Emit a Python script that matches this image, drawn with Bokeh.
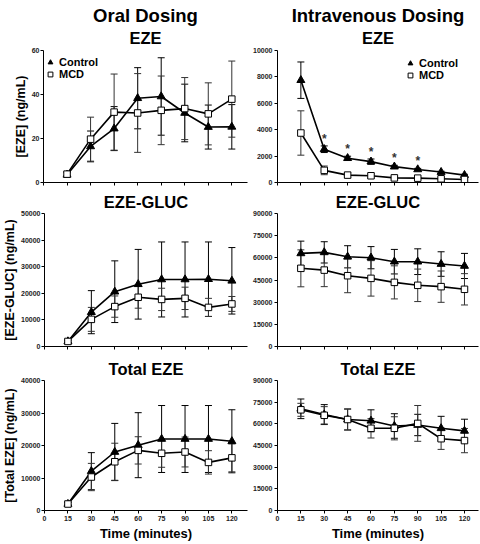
from bokeh.plotting import figure
from bokeh.layouts import column, row
from bokeh.models import (Range1d, ColumnDataSource, Whisker, TeeHead, Title,
                          Legend, LegendItem, FixedTicker)
from bokeh.core.properties import value
from bokeh.embed import file_html
from bokeh.resources import INLINE

# ---------------- data ----------------
time_min = [15, 30, 45, 60, 75, 90, 105, 120]
x_ticks = [0, 15, 30, 45, 60, 75, 90, 105, 120]

column_titles = ["Oral Dosing", "Intravenous Dosing"]
panel_titles = ["EZE", "EZE-GLUC", "Total EZE"]
y_labels = ["[EZE] (ng/mL)", "[EZE-GLUC] (ng/mL)", "[Total EZE] (ng/mL)"]
x_label = "Time (minutes)"
series_names = ["Control", "MCD"]

# Oral dosing
oral_eze_ctrl = [3.5, 16.4, 24.5, 38.3, 39.1, 31.6, 25.2, 25.3]
oral_eze_ctrl_sd = [1.0, 7.0, 10.0, 13.9, 17.6, 13.1, 10.0, 10.1]
oral_eze_mcd = [3.8, 19.7, 32.0, 31.6, 32.8, 33.6, 31.2, 37.9]
oral_eze_mcd_sd = [1.0, 10.0, 17.3, 17.9, 15.6, 14.1, 14.1, 17.3]

oral_gluc_ctrl = [1900, 12900, 20600, 23400, 25200, 25200, 25300, 24700]
oral_gluc_ctrl_sd = [500, 8100, 11600, 13100, 14100, 14100, 14000, 12500]
oral_gluc_mcd = [1900, 10200, 15000, 18500, 17700, 18100, 14700, 16000]
oral_gluc_mcd_sd = [500, 4500, 4000, 4100, 4200, 4200, 3400, 2800]

oral_total_ctrl = [2000, 12100, 18000, 20100, 22000, 22000, 22000, 21300]
oral_total_ctrl_sd = [500, 5700, 8800, 10000, 10300, 10300, 10300, 9700]
oral_total_mcd = [2000, 10300, 15000, 18500, 17600, 18000, 14800, 16200]
oral_total_mcd_sd = [500, 4200, 5700, 4200, 4300, 4600, 3600, 4300]

# Intravenous dosing
iv_eze_ctrl = [7750, 2520, 1840, 1580, 1200, 990, 790, 560]
iv_eze_ctrl_sd = [1380, 250, 150, 200, 100, 80, 60, 60]
iv_eze_mcd = [3750, 920, 560, 510, 350, 330, 280, 230]
iv_eze_mcd_sd = [1680, 330, 180, 150, 80, 60, 50, 60]
iv_eze_significant = [False, True, True, True, True, True, False, False]

iv_gluc_ctrl = [63000, 63700, 60700, 60100, 57400, 57400, 55800, 54500]
iv_gluc_ctrl_sd = [8300, 7200, 7500, 7500, 8300, 8700, 8300, 8500]
iv_gluc_mcd = [52900, 51700, 47900, 46100, 43400, 41400, 40500, 38700]
iv_gluc_mcd_sd = [12500, 11200, 11500, 12000, 11200, 11000, 10600, 10600]

iv_total_ctrl = [70400, 66400, 63000, 62100, 58500, 59200, 56900, 55100]
iv_total_ctrl_sd = [6800, 6900, 7300, 7600, 8500, 7400, 8300, 8100]
iv_total_mcd = [69700, 65900, 63000, 56900, 56900, 60300, 49700, 48400]
iv_total_mcd_sd = [4500, 6000, 7200, 6700, 8000, 12400, 7400, 8400]

oral_y_max = [60, 50000, 40000]
oral_y_step = [20, 10000, 10000]
iv_y_max = [10000, 90000, 90000]
iv_y_step = [2000, 15000, 15000]
x_max = [130, 129]

FONT = "Liberation Sans"

# ---------------- layout ----------------
row_heights = [193, 167, 188]
row_shift = [-3, -2, 0]
top_borders = [53, 25, 25]
bottom_borders = [8, 9, 30]
col_widths = [250, 230]
left_borders = [43, 26]
right_borders = [3, 2]
sub_standoff = [5, 3, 3]
legend_loc = [(1, 102), (127, 101)]


def make_panel(ci, ri, ctrl, ctrl_sd, mcd, mcd_sd, ymax, ystep, sig=None):
    p = figure(width=col_widths[ci], height=row_heights[ri],
               output_backend="svg", toolbar_location=None,
               x_range=Range1d(0, x_max[ci]), y_range=Range1d(0, ymax),
               min_border_left=left_borders[ci], min_border_right=right_borders[ci],
               min_border_top=top_borders[ri], min_border_bottom=bottom_borders[ri])
    p.outline_line_color = None
    p.xgrid.visible = False
    p.ygrid.visible = False
    p.background_fill_color = "white"
    p.border_fill_color = "white"

    p.xaxis.ticker = FixedTicker(ticks=x_ticks)
    p.yaxis.ticker = FixedTicker(ticks=list(range(0, ymax + 1, ystep)))
    for ax in (p.xaxis[0], p.yaxis[0]):
        ax.axis_line_color = "black"
        ax.axis_line_width = 1
        ax.major_tick_line_color = "black"
        ax.major_tick_in = 0
        ax.major_tick_out = 3
        ax.minor_tick_line_color = None
        ax.major_label_text_font = FONT
        ax.major_label_text_font_style = "bold"
        ax.major_label_text_font_size = "7px"
        ax.major_label_text_color = "#222222"
        ax.major_label_standoff = 2
    if ri < 2:
        p.xaxis.major_label_overrides = {t: "" for t in x_ticks}
    else:
        p.xaxis.major_label_standoff = 2
        p.xaxis.axis_label = x_label
        p.xaxis.axis_label_text_font = FONT
        p.xaxis.axis_label_text_font_style = "bold"
        p.xaxis.axis_label_text_font_size = "13px"
        p.xaxis.axis_label_standoff = 2
        p.xaxis.axis_label_text_color = "black"
    if ci == 0:
        p.yaxis.major_label_standoff = 1
        p.yaxis.axis_label = y_labels[ri]
        p.yaxis.axis_label_text_font = FONT
        p.yaxis.axis_label_text_font_style = "bold"
        p.yaxis.axis_label_text_font_size = "12.5px"
        p.yaxis.axis_label_standoff = 1
        p.yaxis.axis_label_text_color = "black"

    # error bars
    for vals, sds, col in ((ctrl, ctrl_sd, "black"), (mcd, mcd_sd, "#333333")):
        src = ColumnDataSource(dict(x=time_min,
                                    lower=[v - s for v, s in zip(vals, sds)],
                                    upper=[v + s for v, s in zip(vals, sds)]))
        w = Whisker(base="x", lower="lower", upper="upper", source=src,
                    line_color=col, line_width=1, level="underlay",
                    upper_head=TeeHead(size=7, line_color=col, line_width=1),
                    lower_head=TeeHead(size=7, line_color=col, line_width=1))
        p.add_layout(w)

    p.line(time_min, ctrl, line_color="black", line_width=1.6)
    p.line(time_min, mcd, line_color="black", line_width=1.6)
    r_ctrl = p.scatter(time_min, ctrl, marker="triangle", size=8,
                       fill_color="black", line_color="black")
    r_mcd = p.scatter(time_min, mcd, marker="square", size=6.5,
                      fill_color="white", line_color="black", line_width=1)

    if sig is not None:
        xs = [t for t, s in zip(time_min, sig) if s]
        ys = [v + s for v, s, g in zip(ctrl, ctrl_sd, sig) if g]
        p.text(x=xs, y=ys, text=["*"] * len(xs), text_align="center",
               text_baseline="bottom", text_font=value(FONT),
               text_font_style="bold", text_font_size="12px", text_color="#333333")

    # titles
    sub = Title(text=panel_titles[ri], align="center", vertical_align="middle",
                text_font=FONT, text_font_style="bold", text_font_size="16.5px",
                standoff=sub_standoff[ri], text_color="black")
    p.add_layout(sub, "above")
    if ri == 0:
        main = Title(text=column_titles[ci], align="center", text_font=FONT,
                     text_font_style="bold", text_font_size="18.5px",
                     standoff=0, text_color="black")
        p.add_layout(main, "above")
        leg = Legend(items=[LegendItem(label=series_names[0], renderers=[r_ctrl]),
                            LegendItem(label=series_names[1], renderers=[r_mcd])],
                     location=legend_loc[ci], padding=2, margin=0, spacing=0,
                     glyph_width=12, glyph_height=12, label_height=12,
                     label_standoff=3, label_text_font=FONT,
                     label_text_font_style="bold", label_text_font_size="11px",
                     label_text_color="black",
                     background_fill_alpha=0, border_line_color=None)
        p.add_layout(leg)
    return p


oral = [
    make_panel(0, 0, oral_eze_ctrl, oral_eze_ctrl_sd, oral_eze_mcd, oral_eze_mcd_sd,
               oral_y_max[0], oral_y_step[0]),
    make_panel(0, 1, oral_gluc_ctrl, oral_gluc_ctrl_sd, oral_gluc_mcd, oral_gluc_mcd_sd,
               oral_y_max[1], oral_y_step[1]),
    make_panel(0, 2, oral_total_ctrl, oral_total_ctrl_sd, oral_total_mcd, oral_total_mcd_sd,
               oral_y_max[2], oral_y_step[2]),
]
iv = [
    make_panel(1, 0, iv_eze_ctrl, iv_eze_ctrl_sd, iv_eze_mcd, iv_eze_mcd_sd,
               iv_y_max[0], iv_y_step[0], sig=iv_eze_significant),
    make_panel(1, 1, iv_gluc_ctrl, iv_gluc_ctrl_sd, iv_gluc_mcd, iv_gluc_mcd_sd,
               iv_y_max[1], iv_y_step[1]),
    make_panel(1, 2, iv_total_ctrl, iv_total_ctrl_sd, iv_total_mcd, iv_total_mcd_sd,
               iv_y_max[2], iv_y_step[2]),
]

rows = [row(o, v, margin=(row_shift[i], 0, 0, 0)) for i, (o, v) in enumerate(zip(oral, iv))]
layout = column(*rows)

open("out.html", "w").write(file_html(layout, INLINE))
